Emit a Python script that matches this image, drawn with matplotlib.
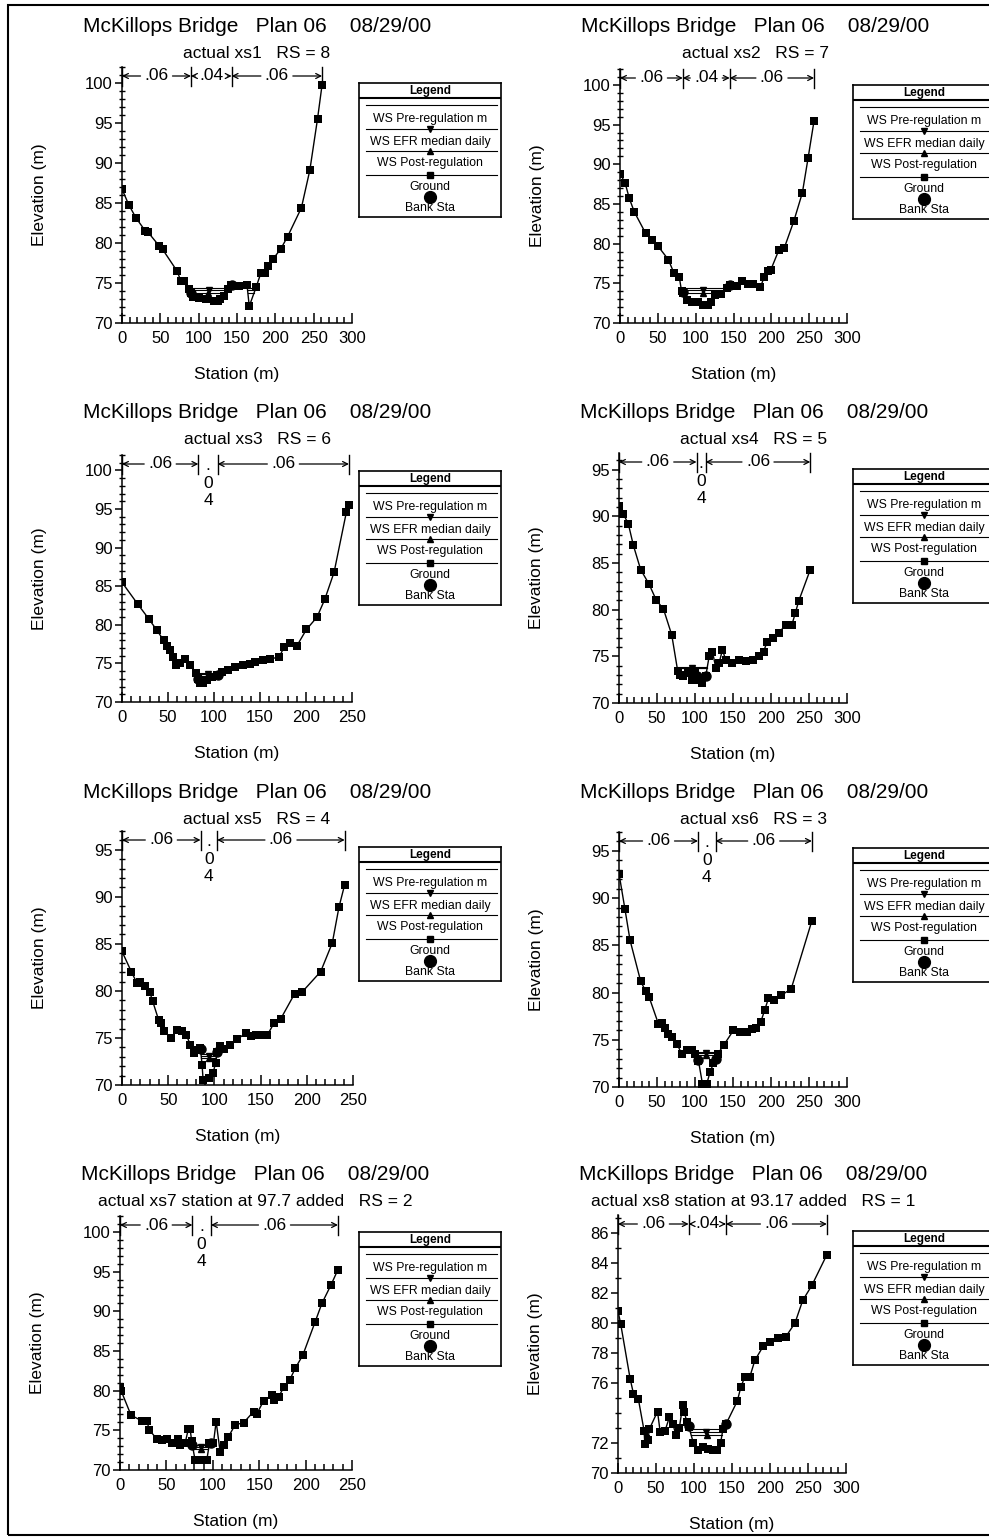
import numpy as np
import matplotlib.pyplot as plt
from matplotlib.patches import Rectangle
from matplotlib.ticker import MultipleLocator
from matplotlib.transforms import blended_transform_factory

plt.rcParams['font.family'] = ['Liberation Sans', 'DejaVu Sans']

W, H = 989, 1537

title = "McKillops Bridge   Plan 06    08/29/00"
subtitles = ["actual xs1   RS = 8", "actual xs2   RS = 7",
             "actual xs3   RS = 6", "actual xs4   RS = 5",
             "actual xs5   RS = 4", "actual xs6   RS = 3",
             "actual xs7 station at 97.7 added   RS = 2",
             "actual xs8 station at 93.17 added   RS = 1"]

# ground profiles (station m, elevation m)
sta1 = [0, 8.7, 18.5, 30.5, 33.5, 48.8, 53, 71.8, 77, 81.5, 88, 90, 93, 100, 110, 120, 125, 128, 133,
        138, 142, 152, 163, 166, 175, 181, 186, 190, 197, 207, 216, 234, 245, 255, 261]
elev1 = [86.75, 84.8, 83.1, 81.5, 81.4, 79.6, 79.2, 76.5, 75.2, 75.3, 74.3, 73.8, 73.3, 73.1, 73.0, 72.8,
         72.8, 73.0, 73.4, 74.2, 74.7, 74.6, 74.8, 72.1, 74.5, 76.2, 76.3, 77.1, 78.0, 79.25, 80.8, 84.4,
         89.1, 95.5, 99.8]
sta2 = [0, 6.6, 12.3, 18.9, 33.9, 41.8, 49.7, 63.8, 71.3, 78.3, 81.4, 83.6, 88, 94.6, 103, 110, 116.6,
        120, 125.4, 134, 141.6, 145, 154, 161.5, 169, 176, 185.6, 190.5, 195.8, 199.3, 210, 216.9, 229.6,
        241, 248.6, 256.5]
elev2 = [88.8, 87.7, 85.7, 84.0, 81.3, 80.5, 79.75, 78.0, 76.3, 75.8, 74.0, 73.8, 72.9, 72.7, 72.7, 72.3,
         72.3, 72.6, 73.5, 73.7, 74.4, 74.8, 74.6, 75.3, 74.9, 74.9, 74.5, 75.8, 76.5, 76.7, 79.2, 79.4,
         82.8, 86.4, 90.8, 95.5]
sta3 = [0, 17.3, 28.9, 37.9, 45.2, 48.8, 52.4, 55.3, 58.9, 63.2, 68.6, 74, 80.6, 83.1, 84.9, 88.5, 92.1,
        97.5, 103, 108.4, 115.6, 122.8, 131.9, 139, 144.5, 153.5, 160.8, 170.9, 176, 182.4, 189.7, 200.5,
        212, 220.4, 230.5, 243.9, 246.7]
elev3 = [85.5, 82.65, 80.8, 79.3, 78.0, 77.3, 76.7, 75.8, 74.75, 75.0, 75.6, 74.8, 73.8, 73.0, 72.5, 72.4,
         72.8, 73.2, 73.45, 73.9, 74.2, 74.5, 74.75, 74.95, 75.2, 75.5, 75.6, 75.8, 77.1, 77.6, 77.2, 79.4,
         81.0, 83.3, 86.8, 94.6, 95.5]
sta4 = [0, 5.7, 12.3, 18.9, 28.5, 39.5, 49.2, 58.4, 69.4, 77.3, 80.4, 84.8, 91.3, 95.7, 100.1, 104.5,
        109.8, 114.2, 118.6, 123, 127.4, 131.8, 136.1, 140.5, 149.3, 158.1, 166.9, 175.7, 184.5, 190.2,
        194.6, 202, 210, 219.6, 227.5, 231.9, 236.3, 251.7]
elev4 = [91.1, 90.25, 89.2, 86.9, 84.3, 82.75, 81.0, 80.1, 77.3, 73.4, 73.0, 72.9, 73.2, 72.5, 73.2, 72.5,
         72.1, 72.9, 75.0, 75.5, 73.75, 74.3, 75.7, 74.6, 74.3, 74.6, 74.5, 74.6, 75.0, 75.5, 76.5, 77.0,
         77.5, 78.4, 78.4, 79.6, 80.9, 84.3]
sta5 = [0, 10.1, 16.3, 19.1, 25.3, 30, 33.2, 39.7, 42.6, 45.2, 53.1, 59.6, 65, 69.7, 74.1, 77.7, 81.3,
        84.9, 86.7, 87.8, 93.9, 98.6, 101.2, 103, 106.6, 110.2, 117.4, 124.6, 133.7, 139.1, 144.5, 153.5,
        157.2, 164.4, 171.6, 186.8, 195.1, 215, 227.6, 234.8, 241]
elev5 = [84.2, 82.05, 80.8, 81.0, 80.5, 79.9, 78.9, 76.9, 76.6, 75.7, 75.0, 75.85, 75.7, 75.3, 74.25, 73.4,
         73.7, 73.9, 72.1, 70.5, 70.7, 71.3, 72.3, 73.55, 74.15, 73.8, 74.25, 74.85, 75.5, 75.2, 75.3, 75.3,
         75.3, 76.55, 77.0, 79.7, 79.9, 82.05, 85.1, 88.9, 91.3]
sta6 = [0, 7.9, 14.5, 28.5, 35.1, 39.5, 51.8, 56.2, 60.6, 65, 69.4, 76, 82.6, 89.2, 95.7, 100.1, 104.5,
        109.8, 115.5, 119.9, 124.3, 130, 137.5, 150.6, 159.4, 168.2, 174.8, 180, 186.6, 191.5, 196.7,
        203.3, 213.4, 226.6, 253.8]
elev6 = [92.6, 88.8, 85.55, 81.2, 80.15, 79.55, 76.7, 76.8, 76.2, 75.65, 75.3, 74.6, 73.5, 73.9, 73.9,
         73.5, 72.8, 70.35, 70.35, 71.6, 72.5, 73.5, 74.4, 76.0, 75.8, 75.8, 76.1, 76.3, 76.9, 78.1, 79.4,
         79.2, 79.7, 80.4, 87.6]
sta7 = [0, 1.5, 11.9, 23.4, 28.8, 31.7, 39.6, 45, 50.4, 55.8, 62.9, 64.7, 70.1, 73.7, 75.5, 77.3, 80.9,
        86.3, 93.5, 96.4, 100.7, 103.6, 107.9, 112.2, 116.9, 124.1, 133.1, 143.9, 147.5, 154.7, 163.7,
        165.5, 170.9, 176.3, 182.7, 188.8, 197.1, 210.4, 217.6, 227.3, 234.9]
elev7 = [80.4, 79.9, 76.9, 76.2, 76.2, 75.05, 73.9, 73.8, 73.9, 73.4, 73.9, 73.2, 73.35, 75.2, 75.2, 73.6,
         71.25, 71.25, 71.25, 73.35, 73.4, 76.1, 72.3, 73.1, 74.2, 75.7, 75.95, 77.35, 77.1, 78.7, 79.4,
         78.8, 79.2, 80.4, 81.3, 82.8, 84.5, 88.7, 91.0, 93.3, 95.25]
sta8 = [0, 3.5, 15.9, 20.3, 26.9, 34.4, 35.3, 39.7, 41, 52, 55.6, 61.8, 67.5, 71.9, 76.3, 80.7, 85.1,
        87.3, 90.4, 93.1, 99.2, 105, 111.6, 118.2, 124.8, 130.6, 135, 138, 142.5, 157, 161.5, 166.7,
        173.4, 180, 191, 199.8, 210, 221, 232.9, 243, 255, 274.8]
elev8 = [80.8, 79.95, 76.3, 75.3, 74.9, 72.8, 71.9, 72.2, 72.9, 74.1, 72.7, 72.8, 73.7, 73.3, 72.55, 73.0,
         74.5, 74.1, 73.4, 73.1, 72.0, 71.55, 71.7, 71.6, 71.5, 71.55, 72.0, 72.9, 73.3, 74.8, 75.7, 76.4,
         76.4, 77.5, 78.45, 78.7, 79.0, 79.1, 80.0, 81.5, 82.5, 84.55]

stations = [sta1, sta2, sta3, sta4, sta5, sta6, sta7, sta8]
elevations = [elev1, elev2, elev3, elev4, elev5, elev6, elev7, elev8]

bank_sta = [(90, 143), (83, 145), (83, 104), (102, 114), (85, 103), (104, 127), (78, 98), (93, 142)]
n_vals = [".06", ".04", ".06"]

ws_pre = [74.4, 74.4, 73.8, 73.9, 73.3, 73.7, 73.1, 72.9]
ws_efr = [74.1, 74.1, 73.6, 73.8, 73.1, 73.55, 72.85, 72.75]
ws_post = [73.8, 73.8, 73.4, 73.7, 72.9, 73.4, 72.6, 72.55]

x_max = [300, 300, 250, 300, 250, 300, 250, 300]
y_max = [102, 102, 102, 96.8, 97, 97, 102, 87.2]
y_ticks = [list(range(70, 101, 5))] * 3 + [list(range(70, 96, 5))] * 3 + \
          [list(range(70, 101, 5)), [70, 72, 76, 78, 80, 82, 84, 86]]

legend_labels = ["WS Pre-regulation m", "WS EFR median daily", "WS Post-regulation", "Ground", "Bank Sta"]

# axes boxes in pixels: x of 0, x of xmax, y of 70, y of ymax
axes_px = [(122, 352, 323, 67), (620, 847, 323, 69),
           (122, 352, 702, 455), (619, 847, 703, 453),
           (122, 353, 1085, 831), (619, 847, 1087, 832),
           (120, 352, 1470, 1216), (618, 846, 1473, 1215)]
row_base = [0, 386, 766, 1148]


def wet_segments(x, z, ws):
    segs, left = [], None
    for i in range(len(x)):
        if z[i] < ws and left is None:
            left = x[0] if i == 0 else x[i-1] + (ws - z[i-1]) * (x[i] - x[i-1]) / (z[i] - z[i-1])
        elif z[i] >= ws and left is not None:
            right = x[i-1] + (ws - z[i-1]) * (x[i] - x[i-1]) / (z[i] - z[i-1])
            segs.append((left, right))
            left = None
    if left is not None:
        segs.append((left, x[-1]))
    return segs


fig = plt.figure(figsize=(W / 100, H / 100), dpi=100)
fig.patches.append(Rectangle((8 / W, 1 - 1535 / H), 1000 / W, 1530 / H, transform=fig.transFigure,
                             fill=False, lw=1.5, color='black'))

for k in range(8):
    x0, x1, yb, yt = axes_px[k]
    w, h = x1 - x0, yb - yt
    ax = fig.add_axes([x0 / W, 1 - yb / H, w / W, h / H])
    sta, elev = stations[k], elevations[k]

    # water surfaces
    for ws, mk in [(ws_pre[k], None), (ws_efr[k], 'v'), (ws_post[k], '^')]:
        segs = wet_segments(sta, elev, ws)
        for a, b in segs:
            ax.plot([a, b], [ws, ws], color='black', lw=0.8)
        if mk and segs:
            a, b = max(segs, key=lambda s: s[1] - s[0])
            ax.plot([(a + b) / 2], [ws], marker=mk, color='black', ms=4)

    ax.plot(sta, elev, '-s', color='black', lw=1.0, ms=5.8, mew=0)
    bl, br = bank_sta[k]
    ax.plot([bl, br], np.interp([bl, br], sta, elev), 'o', color='black', ms=6.5)

    ax.set_xlim(0, x_max[k])
    ax.set_ylim(70, y_max[k])
    ax.spines[['top', 'right']].set_visible(False)
    for s in ax.spines.values():
        s.set_linewidth(1.1)
    ax.xaxis.set_major_locator(MultipleLocator(50))
    ax.xaxis.set_minor_locator(MultipleLocator(10))
    ax.set_yticks(y_ticks[k])
    ax.yaxis.set_minor_locator(MultipleLocator(1))
    ax.tick_params(axis='x', which='both', direction='in', labelsize=12, pad=6, width=1.1)
    ax.tick_params(axis='x', which='major', length=7)
    ax.tick_params(axis='x', which='minor', length=4)
    ax.tick_params(axis='y', which='major', direction='out', length=5, labelsize=12, pad=1.5, width=1.1)
    ax.tick_params(axis='y', which='minor', direction='inout', length=5, width=1.0)
    ax.set_xlabel('Station (m)', fontsize=12.5)
    ax.xaxis.set_label_coords(0.5, -44 / h)
    ax.set_ylabel('Elevation (m)', fontsize=12.5)
    ax.yaxis.set_label_coords(-75 / w, 0.5)

    # Manning's n bands above the section
    tr = blended_transform_factory(ax.transData, ax.transAxes)
    ya = 1 - 9 / h
    breaks = [sta[0], bl, br, sta[-1]]
    for b in breaks:
        ax.plot([b, b], [1, 1 - 19 / h], color='black', lw=1.0, transform=tr, clip_on=False)
    for j in range(3):
        a, b = breaks[j], breaks[j + 1]
        mid = (a + b) / 2
        seg_px = (b - a) / x_max[k] * w
        if seg_px < 30:
            ax.annotate("\n".join(n_vals[j]), xy=(mid, ya), xycoords=tr, xytext=(0, 4),
                        textcoords='offset points', ha='center', va='top', fontsize=12.5,
                        linespacing=1.2, annotation_clip=False)
            continue
        ax.text(mid, ya, n_vals[j], transform=tr, ha='center', va='center', fontsize=12.5)
        for end in (a, b):
            ax.annotate('', xy=(end, ya), xycoords=tr, xytext=(mid, ya), textcoords=tr,
                        arrowprops=dict(arrowstyle='->', lw=0.9, color='black',
                                        shrinkA=11.5, shrinkB=0, mutation_scale=9),
                        annotation_clip=False)

    # titles
    col = k % 2
    base = row_base[k // 2]
    cx = x0 + 135
    fig.text(cx / W, 1 - (base + 26) / H, title, ha='center', va='center', fontsize=15)
    fig.text(cx / W, 1 - (base + 53) / H, subtitles[k], ha='center', va='center', fontsize=12.5)

    # HEC-RAS style legend box
    lx = 359 if col == 0 else 853
    ltop = yt + 16
    lax = fig.add_axes([lx / W, 1 - (ltop + 134) / H, 142 / W, 134 / H])
    lax.set_xlim(0, 1)
    lax.set_ylim(0, 1)
    lax.set_xticks([])
    lax.set_yticks([])
    for s in lax.spines.values():
        s.set_linewidth(1.2)
    lax.text(0.5, 0.937, "Legend", ha='center', va='center', fontsize=8.5, fontweight='bold')
    lax.plot([0, 1], [0.89, 0.89], color='black', lw=1.5)
    sym_y = [0.837, 0.657, 0.49, 0.31]
    sym_mk = [None, 'v', '^', 's']
    for yy, mk in zip(sym_y, sym_mk):
        lax.plot([0.05, 0.97], [yy, yy], color='black', lw=0.8)
        if mk:
            lax.plot([0.5], [yy], marker=mk, color='black', ms=5)
    lax.plot([0.5], [0.147], 'o', color='black', ms=8.5)
    for yy, lab in zip([0.73, 0.563, 0.40, 0.225, 0.07], legend_labels):
        lax.text(0.5, yy, lab, ha='center', va='center', fontsize=8.8)

fig.savefig('out.png', dpi=100)
